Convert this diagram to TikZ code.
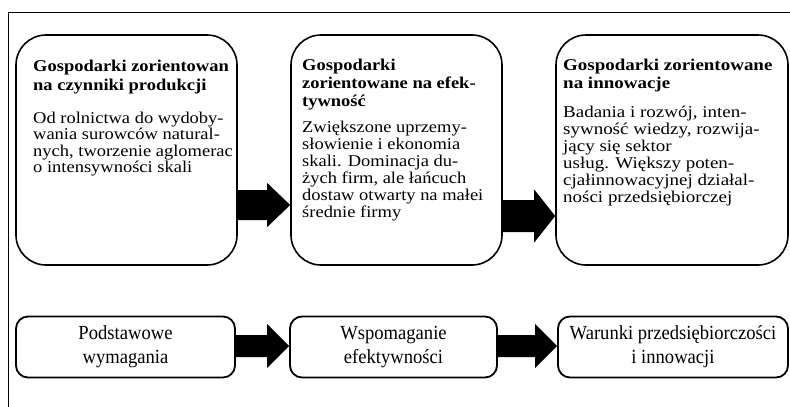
\documentclass[tikz,border=0pt]{standalone}
\usepackage{fontspec}
\usepackage{graphicx}
\setmainfont{Liberation Serif}
\usetikzlibrary{calc}
\newcommand\blockarrow[6]{\fill[blk] ($(#1.east|-0,#3)+(0,-#4)$) -- ($(#2.west|-0,#3)+(-#6,-#4)$) -- ($(#2.west|-0,#3)+(-#6,-#5)$) -- (#2.west|-0,#3) -- ($(#2.west|-0,#3)+(-#6,#5)$) -- ($(#2.west|-0,#3)+(-#6,#4)$) -- ($(#1.east|-0,#3)+(0,#4)$) -- cycle;}
\begin{document}
\begin{tikzpicture}[x=1pt,y=-1pt,
  topbox/.style={draw, line width=1.6pt, rounded corners=30pt, inner sep=0pt},
  botbox/.style={draw, line width=1.8pt, rounded corners=12pt, inner sep=0pt, align=center, font=\fontsize{20}{24}\selectfont},
  frameline/.style={line width=1pt},
  txt/.style={anchor=north west, inner sep=0pt, font=\fontsize{16.5}{16.5}\selectfont},
  blk/.style={fill=black}]
\useasboundingbox (0,0) rectangle (790,407);
\draw[frameline] (8,407) -- (8,12) -- (790,12);
% top row
\node[topbox, minimum width=221pt, minimum height=230pt] (t1) at (126.5,150) {};
\node[topbox, minimum width=211pt, minimum height=230pt] (t2) at (396.5,150) {};
\node[topbox, minimum width=232pt, minimum height=230pt] (t3) at (672,150) {};
\node[txt] (t1txt) at (33,59.5) {\scalebox{1.12}[1]{\begin{tabular}{@{}l@{}}\textbf{Gospodarki zorientowan}\\[2.5pt] \textbf{na czynniki produkcji}\\[16.5pt] Od rolnictwa do wydoby-\\ wania surowców natural-\\ nych, tworzenie aglomerac\\ o intensywności skali\end{tabular}}};
\node[txt] (t2txt) at (302,58.5) {\scalebox{1.12}[1]{\begin{tabular}{@{}l@{}}\textbf{Gospodarki}\\[1.5pt] \textbf{zorientowane na efek-}\\[1.5pt] \textbf{tywność}\\[9.5pt] Zwiększone uprzemy-\\[0.5pt] słowienie i ekonomia\\[0.5pt] skali. Dominacja du-\\[0.5pt] żych firm, ale łańcuch\\[0.5pt] dostaw otwarty na małei\\[0.5pt] średnie firmy\end{tabular}}};
\node[txt] (t3txt) at (563,58.5) {\scalebox{1.15}[1]{\begin{tabular}{@{}l@{}}\textbf{Gospodarki zorientowane}\\[1.5pt] \textbf{na innowacje}\\[12.5pt] Badania i rozwój, inten-\\[0.5pt] sywność wiedzy, rozwija-\\[0.5pt] jący się sektor\\[0.5pt] usług. Większy poten-\\[0.5pt] cjałinnowacyjnej działal-\\[0.5pt] ności przedsiębiorczej\end{tabular}}};
% bottom row
\node[botbox, minimum width=219pt, minimum height=61pt] (b1) at (125.5,347) {\scalebox{0.93}[1]{\begin{tabular}{@{}c@{}}Podstawowe\\ wymagania\end{tabular}}};
\node[botbox, minimum width=207pt, minimum height=61pt] (b2) at (393.5,347) {\scalebox{0.93}[1]{\begin{tabular}{@{}c@{}}Wspomaganie\\ efektywności\end{tabular}}};
\node[botbox, minimum width=230pt, minimum height=61pt] (b3) at (673,347) {\scalebox{0.93}[1]{\begin{tabular}{@{}c@{}}Warunki przedsiębiorczości\\ i innowacji\end{tabular}}};
% arrows
\blockarrow{t1}{t2}{205}{15}{22}{23}
\blockarrow{t2}{t3}{216}{16}{26.5}{21}
\blockarrow{b1}{b2}{346}{11}{22}{22}
\blockarrow{b2}{b3}{346}{11}{22}{22}
\end{tikzpicture}
\end{document}
